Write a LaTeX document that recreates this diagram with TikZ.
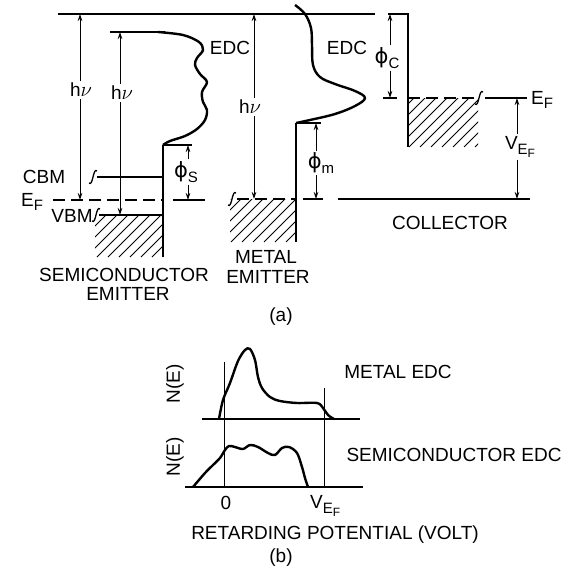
\documentclass[tikz,border=0pt]{standalone}
\usepackage{fontspec}
\setmainfont{Liberation Sans}
\newfontfamily\symfam{DejaVu Sans}
\usetikzlibrary{arrows.meta}

\newcommand{\sbs}[1]{\raisebox{-0.45ex}{\fontsize{15}{15}\selectfont #1}}
\newcommand{\ssbs}[1]{\raisebox{-0.4ex}{\fontsize{12}{12}\selectfont #1}}
\newcommand{\phisym}{{\symfam\fontsize{21}{21}\selectfont ϕ}}
\newcommand{\nusym}{{\fontsize{22}{22}\selectfont$\nu$}}

\tikzset{
  brk/.pic={\draw[line width=1.3pt] (-4,6) .. controls (0,10) and (0,-10) .. (4,-6);},
}

\begin{document}
\begin{tikzpicture}[x=1pt,y=-1pt,
    band/.style={line width=2pt},
    curve/.style={line width=2.4pt,line join=round},
    tick/.style={line width=1.5pt},
    fermi/.style={line width=1.5pt,dash pattern=on 12pt off 6pt},
    hatch/.style={line width=0.8pt},
    dim/.style={line width=0.8pt,-{Stealth[length=7pt,width=4.5pt]}},
    axis/.style={line width=1.8pt},
    lbl/.style={font=\fontsize{19}{21}\selectfont,inner sep=2pt}]
    \useasboundingbox (0,0) rectangle (568,578);

    % (a) semiconductor emitter
    \draw[band] (58,14) -- (375,14); % vacuum level
    \draw[band] (110,32) -- (165,32);
    \draw[curve] plot[smooth,tension=0.55] coordinates {(158,32) (183,35) (199,42) (203,50) (197,58) (195,65) (200,74) (207,82) (202,92) (203,102) (207,110) (205,120) (197,129) (185,136) (170,141) (163,145)};
    \draw[band] (163,145) -- (163,257); % surface
    \draw[tick] (163,145) -- (192,145);
    \draw[tick] (97,177) -- (163,177); % CBM
    \pic at (93,177) {brk};
    \draw[tick] (99,215) -- (163,215); % VBM
    \pic at (96,215) {brk};
    \draw[fermi] (53,200) -- (163,200); % Fermi level
    \draw[tick] (173,200) -- (205,200);
    \begin{scope}
      \clip (95,215) rectangle (163,257);
      \foreach \x in {42,53,...,174} \draw[hatch] (\x,257) -- ++(60,-60);
    \end{scope}

    \node[lbl] (cbm) at (44,177) {CBM};
    \node[lbl,anchor=west] (efsemi) at (19,202) {E\sbs{F}};
    \node[lbl] (vbm) at (72,216) {VBM};
    \node[lbl] (edcs) at (230,48) {EDC};
    \node[lbl] (semi) at (124,275) {SEMICONDUCTOR};
    \node[lbl] (semiem) at (128,294) {EMITTER};

    \coordinate (vacs) at (80,14);
    \coordinate (efsl) at (80,200);
    \node[lbl] (hvout) at (81,90) {h\nusym};
    \draw[dim] (hvout.north -| vacs) -- (vacs);
    \draw[dim] (hvout.south -| vacs) -- (efsl);

    \coordinate (stop) at (120,32);
    \coordinate (vbmpt) at (120,215);
    \node[lbl] (hvin) at (122,93) {h\nusym};
    \draw[dim] (hvin.north -| stop) -- (stop);
    \draw[dim] (hvin.south -| stop) -- (vbmpt);

    \coordinate (cbmtop) at (188,145);
    \coordinate (efsr) at (188,200);
    \node[lbl] (phis) at (186,172) {\phisym\sbs{S}};
    \draw[dim] (phis.north -| cbmtop) -- (cbmtop);
    \draw[dim] (phis.south -| cbmtop) -- (efsr);

    % (a) metal emitter
    \draw[band] (296,123) -- (296,242);
    \draw[curve] plot[smooth,tension=0.6] coordinates {(295,5) (305,14) (311,28) (312,45) (313,65) (320,77) (335,84) (355,91) (365,98) (355,106) (335,114) (310,120) (296,123)};
    \draw[tick] (296,123) -- (321,123);
    \draw[fermi] (237,199) -- (296,199);
    \pic at (232,199) {brk};
    \draw[tick] (303,199) -- (323,199);
    \begin{scope}
      \clip (230,199) rectangle (296,242);
      \foreach \x in {187,198,...,300} \draw[hatch] (\x,242) -- ++(60,-60);
    \end{scope}

    \node[lbl] (edcm) at (347,48) {EDC};
    \node[lbl] (metal) at (266,257) {METAL};
    \node[lbl] (metalem) at (268,277) {EMITTER};

    \coordinate (vacm) at (254,14);
    \coordinate (efml) at (254,199);
    \node[lbl] (hvmid) at (250,107) {h\nusym};
    \draw[dim] (hvmid.north -| vacm) -- (vacm);
    \draw[dim] (hvmid.south -| vacm) -- (efml);

    \coordinate (mtop) at (316,123);
    \coordinate (efm) at (316,199);
    \node[lbl] (phim) at (321,163) {\phisym\sbs{m}};
    \draw[dim] (phim.north -| mtop) -- (mtop);
    \draw[dim] (phim.south -| mtop) -- (efm);

    % (a) collector
    \draw[band] (388,14) -- (408,14) -- (408,147);
    \begin{scope}
      \clip (408,98) rectangle (478,147);
      \foreach \x in {365,376,...,480} \draw[hatch] (\x,147) -- ++(60,-60);
    \end{scope}
    \draw[fermi] (408,98) -- (474,98);
    \pic at (479,98) {brk};
    \draw[tick] (485,98) -- (527,98);
    \draw[tick] (383,98) -- (397,98);
    \draw[band] (338,199) -- (530,199);

    \node[lbl,anchor=west] (efcol) at (529,100) {E\sbs{F}};
    \node[lbl] (coll) at (450,223) {COLLECTOR};

    \coordinate (ctop) at (390,14);
    \coordinate (efc) at (390,98);
    \node[lbl] (phic) at (387,58) {\phisym\sbs{C}};
    \draw[dim] (phic.north -| ctop) -- (ctop);
    \draw[dim] (phic.south -| ctop) -- (efc);

    \coordinate (efcr) at (517,98);
    \coordinate (colbot) at (517,199);
    \node[lbl] (vef) at (520,147) {V\sbs{E\ssbs{F}}};
    \draw[dim] (vef.north -| efcr) -- (efcr);
    \draw[dim] (vef.south -| efcr) -- (colbot);

    \node[lbl] (capa) at (281,317) {(a)};

    % (b) retarding curves
    \draw[axis] (202,419) -- (360,419);
    \draw[axis] (185,487) -- (363,487);
    \draw[line width=0.9pt] (224,362) -- (224,487);
    \draw[line width=0.9pt] (324,388) -- (324,487);
    \draw[curve] plot[smooth,tension=0.55] coordinates {(219,419) (223,400) (230,383) (238,361) (245,350) (250,349) (255,360) (258,377) (262,388) (270,397) (280,401) (297,403) (317,403) (323,408) (328,415) (334,419)};
    \draw[curve] plot[smooth,tension=0.55] coordinates {(193,487) (205,473) (213,465) (220,458) (225,450) (229,446) (235,447) (243,449) (250,445) (258,447) (268,453) (275,455) (282,448) (289,447) (297,453) (302,467) (305,478) (308,487)};

    \node[lbl] (metaledc) at (398,372) {METAL EDC};
    \node[lbl] (semiedc) at (454,455) {SEMICONDUCTOR EDC};
    \node[lbl,rotate=90] (ne1) at (175,384) {N(E)};
    \node[lbl,rotate=90] (ne2) at (175,457) {N(E)};
    \node[lbl] (zero) at (226,503) {0};
    \node[lbl,anchor=west] (vefb) at (308,506) {V\sbs{E\ssbs{F}}};
    \node[lbl] (retard) at (335,535) {RETARDING POTENTIAL (VOLT)};
    \node[lbl] (capb) at (281,558) {(b)};
\end{tikzpicture}
\end{document}
